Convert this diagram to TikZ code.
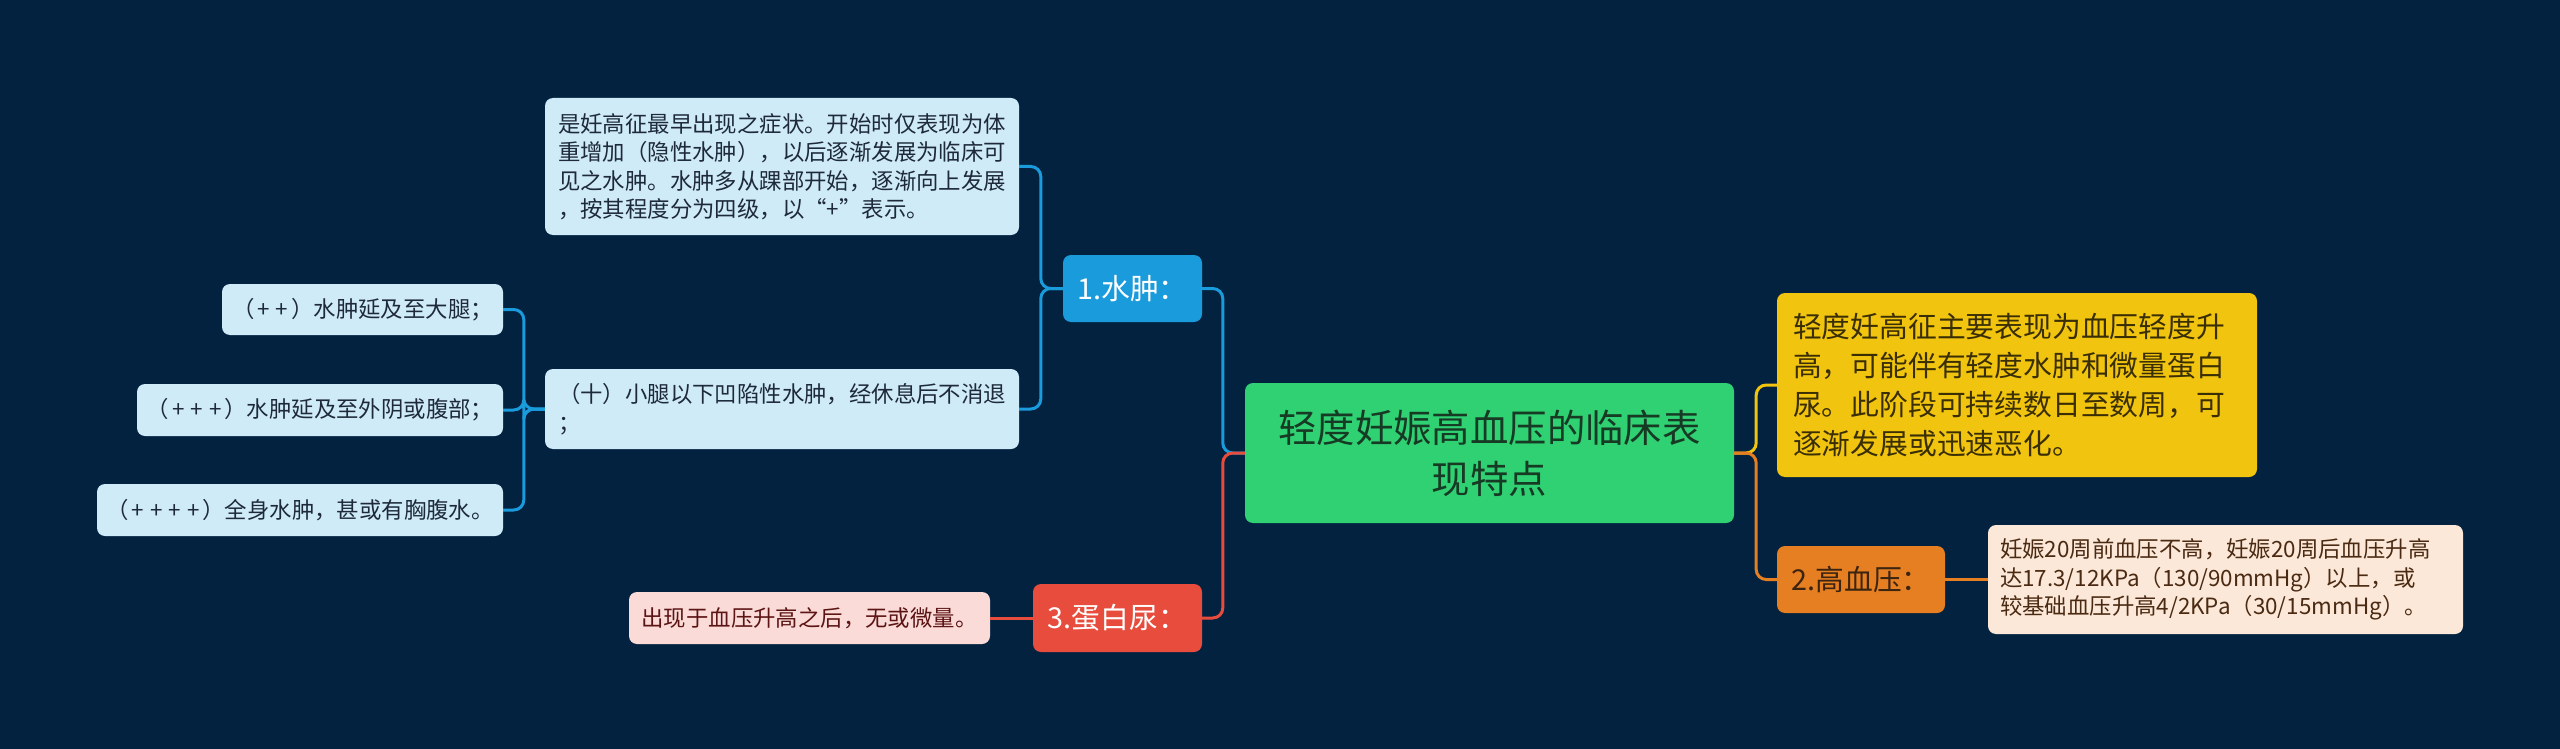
\documentclass[tikz,border=0pt]{standalone}
\usepackage{fontspec}
\setmainfont{Noto Sans CJK SC}
\usepackage{xcolor}
\usepackage{tikz}
\usetikzlibrary{positioning,calc}

\definecolor{bgnavy}{HTML}{022240}
\definecolor{rootgreen}{HTML}{2FD173}
\definecolor{roottext}{HTML}{173A24}
\definecolor{edemablue}{HTML}{1A9BDC}
\definecolor{notesky}{HTML}{CFEBF8}
\definecolor{notetext}{HTML}{1E2A3A}
\definecolor{summyellow}{HTML}{F1C40F}
\definecolor{summtext}{HTML}{3A2E05}
\definecolor{hyperorange}{HTML}{E67E22}
\definecolor{hypertext}{HTML}{3B2410}
\definecolor{notebeige}{HTML}{FCE8D8}
\definecolor{beigetext}{HTML}{4A2A12}
\definecolor{protred}{HTML}{E74C3C}
\definecolor{notepink}{HTML}{FADBD8}
\definecolor{pinktext}{HTML}{5C1414}

\newcommand{\pl}{\kern3pt+\kern3pt}

\begin{document}
\begin{tikzpicture}[x=1pt, y=-1pt,
    box/.style={rectangle, rounded corners=8pt, inner sep=0pt},
    rootbox/.style={box, fill=rootgreen, text=roottext, align=center,
                    font=\fontsize{38.4}{51}\selectfont},
    branchbox/.style={box, align=center, font=\fontsize{28.8}{38.7}\selectfont},
    notebox/.style={box, font=\fontsize{22.4}{28.5}\selectfont},
    link/.style={line width=3pt, rounded corners=10pt},
]

% background
\fill[bgnavy] (0,0) rectangle (2560,749);
\useasboundingbox (0,0) rectangle (2560,749);

% centre
\node[rootbox, minimum width=489pt, minimum height=140pt, text width=440pt] (root) at (1489.5,453)
    {轻度妊娠高血压的临床表\\现特点};

% right side
\node[branchbox, fill=summyellow, text=summtext, align=left,
      minimum width=480pt, minimum height=184pt, text width=448pt] (summary) at (2017,385)
    {轻度妊高征主要表现为血压轻度升\\高，可能伴有轻度水肿和微量蛋白\\尿。此阶段可持续数日至数周，可\\逐渐发展或迅速恶化。};
\node[branchbox, fill=hyperorange, text=hypertext,
      minimum width=168pt, minimum height=67pt] (hyper) at (1861,579.5) {2.高血压：};
\node[notebox, fill=notebeige, text=beigetext, align=left,
      minimum width=475pt, minimum height=109pt, text width=451pt] (hypernote) at (2225.5,579.5)
    {妊娠20周前血压不高，妊娠20周后血压升高\\达17.3/12KPa（130/90mmHg）以上，或\\较基础血压升高4/2KPa（30/15mmHg）。};

% left side: edema
\node[branchbox, fill=edemablue, text=white,
      minimum width=139pt, minimum height=67pt] (edema) at (1132.5,288.5) {1.水肿：};
\node[notebox, fill=notesky, text=notetext, align=left,
      minimum width=474pt, minimum height=137pt, text width=448pt] (edemanote) at (782,166.5)
    {是妊高征最早出现之症状。开始时仅表现为体\\重增加（隐性水肿），以后逐渐发展为临床可\\见之水肿。水肿多从踝部开始，逐渐向上发展\\，按其程度分为四级，以“+”表示。};
\node[notebox, fill=notesky, text=notetext, align=left,
      minimum width=474pt, minimum height=80pt, text width=448pt] (calf) at (782,409)
    {（十）小腿以下凹陷性水肿，经休息后不消退\\；};
\node[notebox, fill=notesky, text=notetext, align=center,
      minimum width=281pt, minimum height=51pt] (thigh) at (362.5,309.5) {（\pl\pl）水肿延及至大腿；};
\node[notebox, fill=notesky, text=notetext, align=center,
      minimum width=366pt, minimum height=52pt] (vulva) at (320,410) {（\pl\pl\pl）水肿延及至外阴或腹部；};
\node[notebox, fill=notesky, text=notetext, align=center,
      minimum width=406pt, minimum height=52pt] (whole) at (300,510) {（\pl\pl\pl\pl）全身水肿，甚或有胸腹水。};

% left side: proteinuria
\node[branchbox, fill=protred, text=white,
      minimum width=169pt, minimum height=68pt] (protein) at (1117.5,618) {3.蛋白尿：};
\node[notebox, fill=notepink, text=pinktext, align=center,
      minimum width=361pt, minimum height=52pt] (proteinnote) at (809.5,618) {出现于血压升高之后，无或微量。};

% connectors
\draw[link, summyellow] (root.east) -- ([xshift=22pt]root.east) |- (summary.west);
\draw[link, hyperorange] (root.east) -- ([xshift=22pt]root.east) |- (hyper.west);
\draw[link, hyperorange] (hyper.east) -- (hypernote.west);
\draw[link, edemablue] (root.west) -- ([xshift=-22pt]root.west) |- (edema.east);
\draw[link, protred] (root.west) -- ([xshift=-22pt]root.west) |- (protein.east);
\draw[link, protred] (protein.west) -- (proteinnote.east);
\draw[link, edemablue] (edema.west) -- ([xshift=-22pt]edema.west) |- (edemanote.east);
\draw[link, edemablue] (edema.west) -- ([xshift=-22pt]edema.west) |- (calf.east);
\draw[link, edemablue] (calf.west) -- ([xshift=-21pt]calf.west) |- (thigh.east);
\draw[link, edemablue] (calf.west) -- ([xshift=-21pt]calf.west) |- (vulva.east);
\draw[link, edemablue] (calf.west) -- ([xshift=-21pt]calf.west) |- (whole.east);
\end{tikzpicture}
\end{document}
